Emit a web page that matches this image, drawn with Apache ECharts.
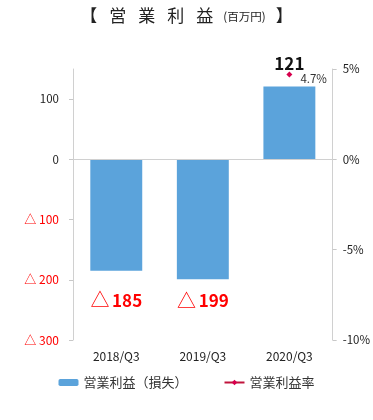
<!DOCTYPE html>
<html><head><meta charset="utf-8">
<script src="https://cdn.jsdelivr.net/npm/echarts@6/dist/echarts.min.js"></script>
<style>html,body{margin:0;padding:0;background:#fff}#c{width:373px;height:420px}</style>
</head><body><div id="c"></div>
<script>
var categories = ['2018/Q3', '2019/Q3', '2020/Q3'];
var profit = [-185, -199, 121];
var margin = [null, null, 4.7];
var leftTicks = [100, 0, -100, -200, -300];
var rightTicks = [5, 0, -5, -10];
var labelDist = [20, 12, 14];

var FONT = '"Noto Sans CJK JP", "Noto Sans", sans-serif';
var chart = echarts.init(document.getElementById('c'));
chart.setOption({
  animation: false,
  textStyle: { fontFamily: FONT },
  title: {
    left: 'center', top: 2,
    text: '{c|【}{c|営}{c|業}{c|利}{c|益}{s|(百万円)}{c|】}',
    textStyle: {
      fontWeight: 'normal',
      rich: {
        c: { fontSize: 17, color: '#222', fontWeight: 'normal', padding: [0, 6], fontFamily: FONT },
        s: { fontSize: 11.5, color: '#222', fontWeight: 'normal', padding: [3, 4, 0, 4], fontFamily: FONT }
      }
    }
  },
  grid: { left: 73, right: 39, top: 69, bottom: 80 },
  legend: {
    bottom: 26, left: 'center', itemGap: 36, itemWidth: 20, itemHeight: 7,
    textStyle: { fontSize: 13, color: '#333', fontFamily: FONT },
    data: [{ name: '営業利益（損失）' }, { name: '営業利益率' }]
  },
  xAxis: {
    type: 'category', data: categories,
    axisLine: { show: false }, axisTick: { show: false },
    axisLabel: { color: '#222', fontSize: 12, margin: 10, fontFamily: FONT }
  },
  yAxis: [{
    type: 'value', min: -300, max: 150, interval: 50,
    splitLine: { show: false },
    axisLine: { show: true, lineStyle: { color: '#d0d0d0' } },
    axisTick: { show: true, length: 4, customValues: leftTicks, lineStyle: { color: '#c8c8c8' } },
    axisLabel: {
      customValues: leftTicks, margin: 14, fontSize: 11.5, fontFamily: FONT,
      formatter: function (v) { return v < 0 ? '{n|△ ' + (-v) + '}' : '{p|' + v + '}'; },
      rich: { n: { color: '#ff0000', fontSize: 12, fontFamily: FONT }, p: { color: '#222', fontSize: 11.5, fontFamily: FONT } }
    }
  }, {
    type: 'value', min: -10, max: 5, interval: 5, position: 'right',
    splitLine: { show: false },
    axisLine: { show: true, lineStyle: { color: '#d0d0d0' } },
    axisTick: { show: true, length: 4, lineStyle: { color: '#c8c8c8' } },
    axisLabel: { color: '#222', fontSize: 11.5, margin: 10, fontFamily: FONT, formatter: '{value}%' }
  }],
  series: [{
    name: '営業利益（損失）', type: 'bar', barWidth: '60%',
    itemStyle: { color: '#5BA3DB' },
    data: profit.map(function (v, i) {
      return {
        value: v,
        label: {
          show: true, position: v < 0 ? 'bottom' : 'top', distance: labelDist[i],
          formatter: v < 0 ? '{t|△} {b|' + (-v) + '}' : '{k|' + v + '}',
          rich: {
            t: { color: '#ff0000', fontSize: 19, fontFamily: FONT },
            b: { color: '#ff0000', fontSize: 17, fontWeight: 'bold', fontFamily: FONT },
            k: { color: '#111', fontSize: 17, fontWeight: 'bold', fontFamily: FONT }
          }
        }
      };
    }),
    markLine: {
      silent: true, symbol: 'none', label: { show: false },
      lineStyle: { color: '#d0d0d0', type: 'solid', width: 1 },
      data: [{ yAxis: 0 }]
    }
  }, {
    name: '営業利益率', type: 'line', yAxisIndex: 1,
    symbol: 'diamond', symbolSize: 6,
    itemStyle: { color: '#D6004D' }, lineStyle: { color: '#C0143C', width: 1.5 },
    label: { show: true, position: 'right', distance: 8, offset: [0, 4], color: '#333', fontSize: 11.5, fontFamily: FONT, formatter: '{c}%' },
    data: margin
  }]
});
</script></body></html>
